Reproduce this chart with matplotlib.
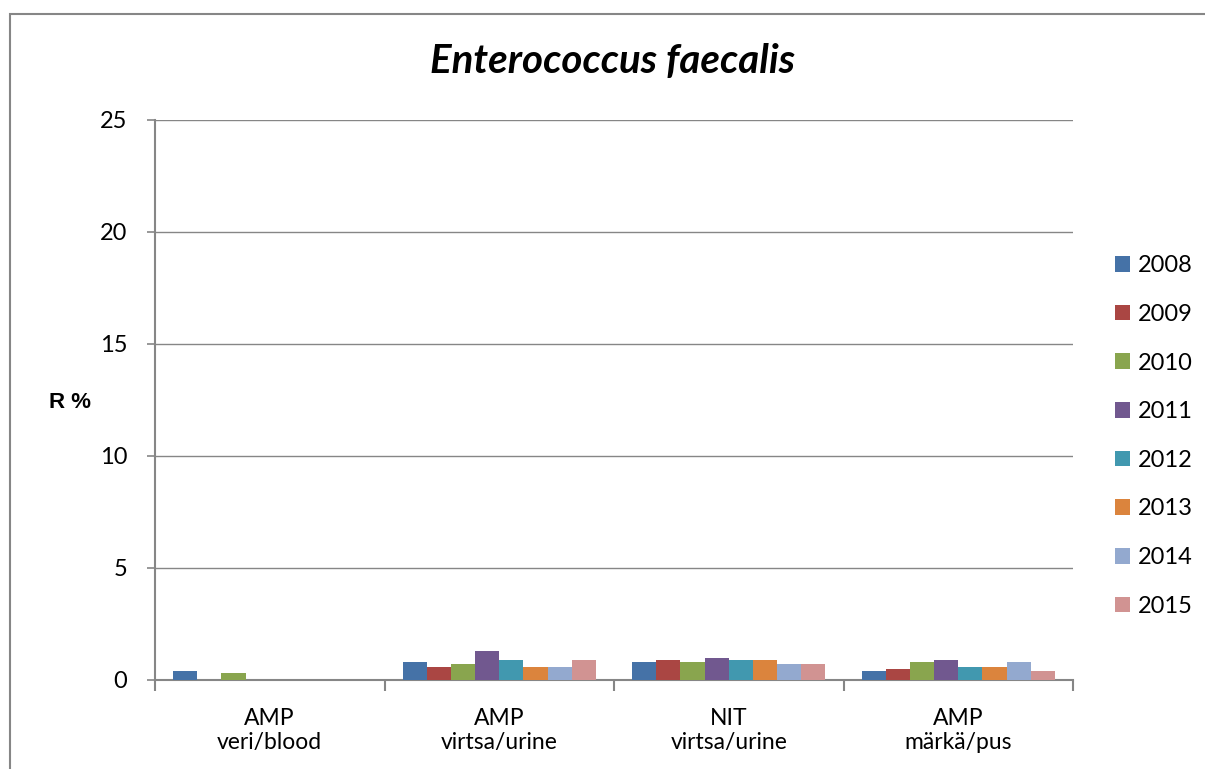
import matplotlib
matplotlib.use("Agg")
import matplotlib.pyplot as plt
from matplotlib.patches import Rectangle
import numpy as np

categories = ["AMP\nveri/blood", "AMP\nvirtsa/urine", "NIT\nvirtsa/urine", "AMP\nmärkä/pus"]
years = ["2008", "2009", "2010", "2011", "2012", "2013", "2014", "2015"]

# R % per year, one list per category
r_blood = [0.4, 0.0, 0.3, 0.0, 0.0, 0.0, 0.0, 0.0]
r_urine_amp = [0.8, 0.6, 0.7, 1.3, 0.9, 0.6, 0.6, 0.9]
r_urine_nit = [0.8, 0.9, 0.8, 1.0, 0.9, 0.9, 0.7, 0.7]
r_pus = [0.4, 0.5, 0.8, 0.9, 0.6, 0.6, 0.8, 0.4]

colors = ["#4572A7", "#AA4643", "#89A54E", "#71588F",
          "#4198AF", "#DB843D", "#93A9CF", "#D19392"]

plt.rcParams['font.family'] = ['Lato', 'DejaVu Sans']

values = np.array([r_blood, r_urine_amp, r_urine_nit, r_pus])

fig = plt.figure(figsize=(12.05, 7.69), dpi=100)
ax = fig.add_axes([155 / 1205, 89 / 769, 918 / 1205, 560 / 769])

# outer chart frame
fig.patches.append(Rectangle((10 / 1205, -0.1), 1.2, (755 + 77) / 769,
                             transform=fig.transFigure, fill=False,
                             edgecolor="#868686", linewidth=1.5))

n = len(years)
width = 1.0 / (n + 1.5)
x = np.arange(len(categories))
for i, year in enumerate(years):
    offs = (i - (n - 1) / 2) * width
    ax.bar(x + offs, values[:, i], width, color=colors[i], label=year,
           linewidth=0, zorder=3)

ax.set_xlim(-0.5, len(categories) - 0.5)
ax.set_ylim(0, 25)
ax.set_yticks(np.arange(0, 26, 5))
ax.yaxis.grid(True, color="#868686", linewidth=1)
ax.set_axisbelow(True)

ax.set_xticks(x)
ax.set_xticklabels(categories, fontsize=16.5, linespacing=1.2)
ax.set_xticks(np.arange(-0.5, len(categories)), minor=True)
ax.tick_params(axis="x", which="major", length=0, pad=20)
ax.tick_params(axis="x", which="minor", length=8, color="#868686", width=1.5)
ax.tick_params(axis="y", length=6, color="#868686", width=1.2, labelsize=17, pad=14)

for s in ["top", "right"]:
    ax.spines[s].set_visible(False)
for s in ["left", "bottom"]:
    ax.spines[s].set_color("#868686")
    ax.spines[s].set_linewidth(1.5)

ax.set_ylabel("R %", rotation=0, fontsize=16, fontweight="bold",
              family=["Liberation Sans", "DejaVu Sans"], ha="center", va="center")
ax.yaxis.set_label_coords(-0.0926, 0.495)

fig.text(613 / 1205, 1 - 62 / 769, "Enterococcus faecalis", ha="center", va="center",
         fontsize=29, fontweight="bold", fontstyle="italic")

leg = ax.legend(loc="center left", bbox_to_anchor=(1094 / 1205, 1 - 436 / 769),
                bbox_transform=fig.transFigure, frameon=False, fontsize=17,
                handlelength=0.64, handleheight=0.64, handletextpad=0.3,
                labelspacing=1.17)

fig.savefig("out.png", dpi=100)
